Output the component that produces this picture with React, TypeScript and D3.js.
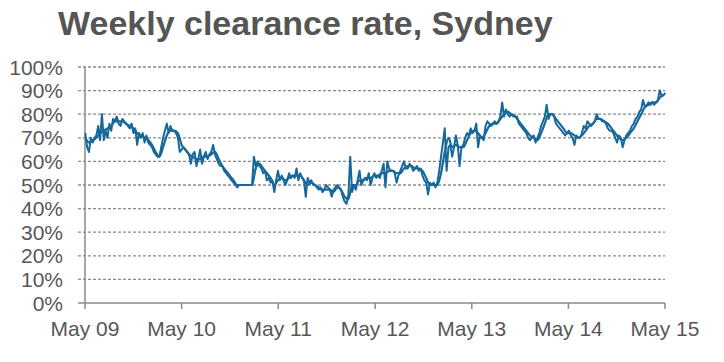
import * as d3 from "d3";

// weekly auction clearance rate (%), first week of May 2009 onwards
const weeklyRate = [
  72, 66, 64, 70, 68, 70, 71, 75, 69, 80, 69, 73, 70, 76, 73, 78, 77, 79, 76, 75,
  78, 77, 76, 75, 74, 76, 72, 74, 67, 72, 70, 72, 68, 71, 68, 67, 66, 64, 63, 62,
  62, 66, 70, 73, 76, 72, 75, 73, 73, 72, 70, 64,
  65, 66, 65, 64, 63, 59, 63, 64, 58, 61, 65, 59, 62, 64, 61, 63, 64, 67, 63, 61,
  59, 58, 58, 56, 55, 54, 53, 52, 51, 50, 49, 50, 50, 50, 50, 50, 50, 50, 50, 62,
  58, 60, 58, 57, 55, 56, 52, 53, 51, 52, 47, 52,
  56, 52, 54, 52, 50, 52, 55, 53, 54, 53, 57, 52, 55, 53, 52, 45, 53, 51, 52, 50,
  50, 49, 48, 49, 47, 48, 50, 49, 48, 45, 48, 49, 50, 49, 48, 45, 43, 42, 46, 62,
  47, 50, 48, 52, 56, 50, 52, 53, 52, 55, 50, 53,
  55, 53, 54, 53, 56, 59, 49, 60, 57, 56, 56, 55, 51, 54, 56, 58, 60, 57, 57, 59,
  58, 56, 57, 58, 56, 57, 54, 52, 51, 46, 51, 50, 51, 49, 51, 56, 62, 68, 74, 56,
  66, 67, 62, 66, 71, 67, 58, 66, 67, 70, 72, 71,
  74, 72, 73, 76, 66, 71, 70, 69, 75, 77, 76, 75, 76, 77, 76, 77, 79, 85, 79, 82,
  80, 79, 80, 79, 79, 79, 76, 75, 74, 73, 72, 70, 69, 70, 71, 68, 70, 72, 75, 77,
  79, 84, 78, 80, 80, 79, 76, 75, 74, 73, 72, 71,
  72, 73, 71, 70, 67, 71, 70, 70, 72, 75, 74, 77, 76, 75, 76, 77, 80, 78, 78, 77,
  77, 76, 74, 73, 73, 72, 70, 68, 71, 70, 66, 69, 71, 72, 73, 75, 76, 78, 79, 81,
  82, 86, 83, 84, 85, 84, 85, 84, 85, 86, 90, 88, 88, 89,
];

// smoothed trend, read every second week
const trendRate = [
  70, 68, 69, 70, 72, 73, 74, 75, 77, 77, 77, 76, 75, 74, 72, 71, 70, 69, 67, 64,
  62, 66, 71, 73, 73, 72,
  67, 65, 63, 62, 61, 61, 62, 62, 63, 64, 61, 58, 56, 54, 52, 50, 50, 50, 50, 50,
  57, 59, 57, 55, 53, 50,
  52, 53, 52, 53, 54, 54, 54, 52, 50, 51, 50, 49, 48, 48, 48, 47, 49, 48, 45, 44,
  50, 50, 52, 52, 53, 53,
  54, 54, 55, 55, 56, 56, 55, 55, 57, 58, 58, 57, 57, 56, 53, 50, 50, 50, 55, 64,
  70, 66, 67, 66, 66, 69,
  72, 73, 72, 70, 72, 75, 76, 76, 78, 80, 81, 80, 79, 77, 75, 73, 71, 70, 69, 72,
  76, 80, 80, 78, 76, 74,
  72, 72, 71, 70, 71, 73, 75, 76, 78, 78, 77, 76, 74, 72, 70, 69, 70, 72, 74, 77,
  80, 83, 84, 85, 85, 87, 88,
];

const yTicks = [0, 10, 20, 30, 40, 50, 60, 70, 80, 90, 100];
const xTickYears = [2009, 2010, 2011, 2012, 2013, 2014, 2015];

const firstWeek = new Date(2009, 4, 2);
const weekDate = (i: number) => d3.timeDay.offset(firstWeek, i * 7);

const W = 724;
const H = 362;
const plot = { left: 85, right: 665, top: 67, bottom: 303 };
const lineColor = "#17689a";
const gridColor = "#8a8a8a";
const textColor = "#575757";

export default function App() {
  const x = d3
    .scaleTime()
    .domain([new Date(2009, 4, 1), new Date(2015, 4, 1)])
    .range([plot.left, plot.right]);
  const y = d3.scaleLinear().domain([0, 100]).range([plot.bottom, plot.top]);

  const weekly = weeklyRate.map((v, i) => ({ d: weekDate(i), v }));
  const trend = trendRate.map((v, i) => ({ d: weekDate(i * 2), v }));

  const line = d3
    .line<{ d: Date; v: number }>()
    .x((p) => x(p.d))
    .y((p) => y(p.v));
  const smooth = d3
    .line<{ d: Date; v: number }>()
    .x((p) => x(p.d))
    .y((p) => y(p.v))
    .curve(d3.curveMonotoneX);

  const fmt = d3.timeFormat("%b %y");
  const font = "'Liberation Sans', Arial, sans-serif";

  return (
    <svg
      width={W}
      height={H}
      style={{ position: "absolute", left: 0, top: 0, background: "#fff" }}
    >
      <text
        x={58}
        y={35}
        fontFamily={font}
        fontWeight="bold"
        fontSize={34}
        fill="#555555"
      >
        Weekly clearance rate, Sydney
      </text>

      {/* gridlines */}
      {yTicks
        .filter((t) => t > 0)
        .map((t) => (
          <line
            key={t}
            x1={plot.left - 7}
            x2={plot.right}
            y1={y(t)}
            y2={y(t)}
            stroke={gridColor}
            strokeWidth={1.3}
            strokeDasharray="3,2"
          />
        ))}

      {/* axes */}
      <line x1={plot.left} x2={plot.left} y1={plot.top} y2={plot.bottom} stroke={gridColor} strokeWidth={1.5} />
      <line x1={plot.left - 7} x2={plot.right} y1={plot.bottom} y2={plot.bottom} stroke={gridColor} strokeWidth={1.5} />
      {xTickYears.map((yr) => {
        const d = new Date(yr, 4, 1);
        return (
          <g key={yr}>
            <line x1={x(d)} x2={x(d)} y1={plot.bottom} y2={plot.bottom + 6} stroke={gridColor} strokeWidth={1.5} />
            <text
              x={x(d)}
              y={336}
              textAnchor="middle"
              fontFamily={font}
              fontSize={21}
              fill={textColor}
            >
              {fmt(d)}
            </text>
          </g>
        );
      })}

      {yTicks.map((t) => (
        <text
          key={t}
          x={63}
          y={y(t)}
          dy="0.36em"
          textAnchor="end"
          fontFamily={font}
          fontSize={21}
          fill={textColor}
        >
          {t}%
        </text>
      ))}

      <path d={smooth(trend) ?? ""} fill="none" stroke={lineColor} strokeWidth={2.2} strokeLinejoin="round" />
      <path d={line(weekly) ?? ""} fill="none" stroke={lineColor} strokeWidth={2} strokeLinejoin="round" />
    </svg>
  );
}
